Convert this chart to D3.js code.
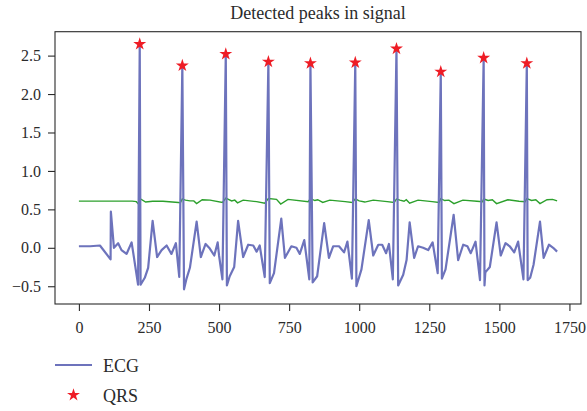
<!DOCTYPE html>
<html>
<head>
<meta charset="utf-8">
<script src="https://cdn.jsdelivr.net/npm/d3@7"></script>
<style>
    body { margin: 0; background: #fff; }
    svg { display: block; }
    svg text { font-family: "Liberation Serif", "DejaVu Serif", serif; }
</style>
</head>
<body>
<svg width="587" height="411"></svg>
<script>
const ecgX = [0, 40, 75, 113, 114, 125, 140, 152, 170, 188, 194, 211, 217, 220, 235, 247, 263, 279, 295, 313, 330, 346, 358,
    369, 375, 384, 396, 420, 435, 452, 467, 483, 495, 500, 512,
    524, 528, 538, 554, 568, 586, 604, 622, 634, 645, 663,
    676, 681, 696, 722, 735, 758, 776, 788, 804, 822,
    826, 834, 850, 875, 892, 907, 928, 946, 958, 974,
    986, 990, 1008, 1034, 1050, 1068, 1082, 1096, 1106, 1120,
    1133, 1139, 1157, 1169, 1180, 1196, 1210, 1228, 1246, 1262, 1280,
    1291, 1295, 1308, 1337, 1353, 1371, 1386, 1398, 1415, 1431,
    1444, 1447, 1450, 1466, 1490, 1505, 1522, 1537, 1553, 1567, 1586,
    1598, 1601, 1610, 1622, 1645, 1658, 1677, 1692, 1706];
const ecgY = [0.02, 0.02, 0.03, -0.15, 0.47, 0.00, 0.06, -0.03, -0.08, 0.07, -0.07, -0.48, 2.65, -0.48, -0.39, -0.26, 0.35, -0.12, -0.03, 0.03, -0.08, 0.06, -0.38,
    2.37, -0.54, -0.40, -0.26, 0.34, -0.12, 0.05, -0.01, -0.10, 0.07, -0.10, -0.41,
    2.52, -0.49, -0.37, -0.25, 0.35, -0.12, 0.04, 0.03, -0.05, 0.03, -0.38,
    2.42, -0.46, -0.33, 0.38, -0.13, 0.02, 0.00, -0.08, 0.10, -0.41,
    2.40, -0.45, -0.37, 0.32, -0.13, 0.02, 0.02, -0.06, 0.08, -0.40,
    2.41, -0.50, -0.28, 0.36, -0.10, 0.04, 0.04, -0.07, 0.05, -0.41,
    2.59, -0.49, -0.35, -0.16, 0.33, -0.13, 0.02, 0.00, -0.03, 0.07, -0.33,
    2.29, -0.40, -0.28, 0.43, -0.16, 0.04, 0.02, -0.07, 0.08, -0.42,
    2.47, -0.49, -0.32, -0.25, 0.33, -0.10, 0.06, 0.02, -0.06, 0.08, -0.41,
    2.40, -0.42, -0.39, -0.22, 0.34, -0.13, 0.04, 0.00, -0.05];

const thresholdX = [0, 190, 205, 211, 220, 238, 263, 300, 355, 362, 369, 380, 396, 410, 420, 440, 468, 512, 524, 545, 556, 566, 586,
    634, 663, 676, 705, 720, 746, 818, 826, 842, 852, 870, 895, 950, 975, 986, 1000, 1020, 1050, 1100, 1125,
    1133, 1145, 1160, 1168, 1180, 1210, 1260, 1285, 1291, 1305, 1320, 1338, 1370, 1420, 1440, 1444, 1460, 1475,
    1490, 1530, 1570, 1592, 1598, 1615, 1630, 1645, 1670, 1690, 1706];
const thresholdY = [0.607, 0.607, 0.60, 0.575, 0.635, 0.595, 0.605, 0.605, 0.59, 0.585, 0.635, 0.62, 0.61, 0.61, 0.575, 0.625, 0.62, 0.59, 0.645, 0.61, 0.62, 0.585, 0.62,
    0.60, 0.58, 0.64, 0.63, 0.57, 0.63, 0.60, 0.64, 0.615, 0.625, 0.59, 0.62, 0.60, 0.59, 0.635, 0.61, 0.595, 0.62, 0.60, 0.59,
    0.635, 0.62, 0.605, 0.625, 0.58, 0.62, 0.60, 0.59, 0.64, 0.615, 0.62, 0.575, 0.62, 0.605, 0.60, 0.635, 0.615, 0.625,
    0.575, 0.625, 0.605, 0.60, 0.64, 0.615, 0.625, 0.575, 0.625, 0.63, 0.61];

const peakX = [217, 369, 524, 676, 826, 986, 1133, 1291, 1444, 1598];
const peakY = [2.65, 2.37, 2.52, 2.42, 2.40, 2.41, 2.59, 2.29, 2.47, 2.40];

const xTicks = [0, 250, 500, 750, 1000, 1250, 1500, 1750];
const yTicks = [-0.5, 0.0, 0.5, 1.0, 1.5, 2.0, 2.5];
const legendLabels = ["ECG", "QRS"];

const ecgColor = () => "#6d73bc";
const thresholdColor = () => "#2ca02c";
const starColor = () => "#ee1c25";
const inkColor = () => "#2b2b2b";
const serifFont = () => "'Liberation Serif', 'DejaVu Serif', serif";

const plot = {left: 55, right: 581, top: 31.7, bottom: 304};

const paddedExtent = (values) => {
    const [lo, hi] = d3.extent(values);
    const pad = (hi - lo) * 0.05;
    return [lo - pad, hi + pad];
};

const svg = d3.select("svg");

const x = d3.scaleLinear()
    .domain(paddedExtent(ecgX))
    .range([plot.left, plot.right]);

const y = d3.scaleLinear()
    .domain(paddedExtent(ecgY.concat([-0.57])))
    .range([plot.bottom, plot.top]);

const ecgPoints = ecgX.map((v, i) => [v, ecgY[i]]);
const thresholdPoints = thresholdX.map((v, i) => [v, thresholdY[i]]);
const peaks = peakX.map((v, i) => [v, peakY[i]]);

const line = d3.line()
    .x(d => x(d[0]))
    .y(d => y(d[1]));

svg.append("text")
    .attr("x", (plot.left + plot.right) / 2)
    .attr("y", 19)
    .attr("text-anchor", "middle")
    .attr("font-size", 18)
    .attr("fill", inkColor())
    .text("Detected peaks in signal");

svg.append("path")
    .datum(thresholdPoints)
    .attr("fill", "none")
    .attr("stroke", thresholdColor())
    .attr("stroke-width", 1.4)
    .attr("d", line);

svg.append("path")
    .datum(ecgPoints)
    .attr("fill", "none")
    .attr("stroke", ecgColor())
    .attr("stroke-width", 2.2)
    .attr("stroke-linejoin", "round")
    .attr("d", line);

const star = d3.symbol().type(d3.symbolStar).size(52);

svg.append("g")
    .selectAll("path")
    .data(peaks)
    .enter().append("path")
    .attr("transform", d => `translate(${x(d[0])},${y(d[1])})`)
    .attr("d", star)
    .attr("fill", starColor());

const xAxis = svg.append("g")
    .attr("transform", `translate(0,${plot.bottom})`)
    .call(d3.axisBottom(x).tickValues(xTicks).tickFormat(d3.format("d")).tickSize(7).tickPadding(11));

const yAxis = svg.append("g")
    .attr("transform", `translate(${plot.left},0)`)
    .call(d3.axisLeft(y).tickValues(yTicks).tickFormat(d3.format(".1f")).tickSize(7).tickPadding(7));

[xAxis, yAxis].forEach(axis => {
    axis.attr("font-family", serifFont()).attr("font-size", 16);
    axis.select(".domain").remove();
    axis.selectAll("line").attr("stroke", inkColor()).attr("stroke-width", 1.1);
    axis.selectAll("text")
        .style("font-family", serifFont())
        .attr("fill", inkColor());
});

svg.append("rect")
    .attr("x", plot.left)
    .attr("y", plot.top)
    .attr("width", plot.right - plot.left)
    .attr("height", plot.bottom - plot.top)
    .attr("fill", "none")
    .attr("stroke", inkColor())
    .attr("stroke-width", 1.1);

const legend = svg.append("g");

legend.append("line")
    .attr("x1", 55)
    .attr("x2", 92)
    .attr("y1", 365)
    .attr("y2", 365)
    .attr("stroke", ecgColor())
    .attr("stroke-width", 2.2);

legend.append("path")
    .attr("transform", "translate(73.5,395)")
    .attr("d", star)
    .attr("fill", starColor());

legend.selectAll("text")
    .data(legendLabels)
    .enter().append("text")
    .attr("x", 103)
    .attr("y", (d, i) => 371.5 + i * 30)
    .attr("font-size", 18)
    .attr("fill", inkColor())
    .text(d => d);
</script>
</body>
</html>
